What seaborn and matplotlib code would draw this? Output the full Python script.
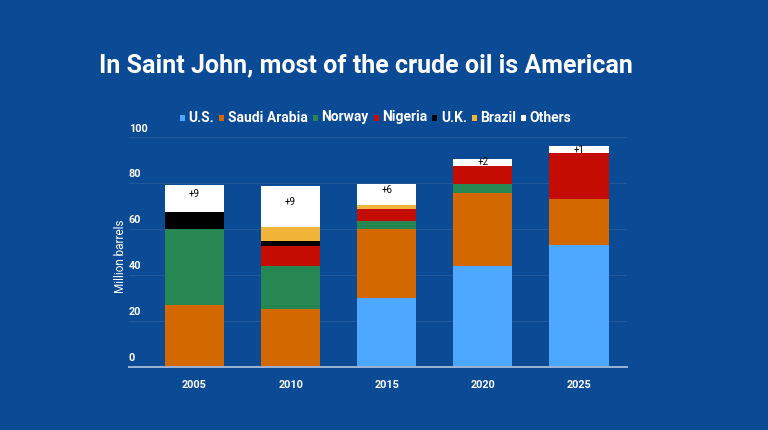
import matplotlib
matplotlib.use("Agg")
import matplotlib.pyplot as plt
from matplotlib.patches import Rectangle
from matplotlib.transforms import blended_transform_factory
import seaborn as sns
import numpy as np
import pandas as pd

years = ["2005", "2010", "2015", "2020", "2025"]
us = [0, 0, 30, 44, 53]
saudi = [27, 25, 30, 31.5, 20]
norway = [33, 19, 3.5, 4, 0]
nigeria = [0, 8.7, 5, 8, 20]
uk = [7.5, 2, 0, 0, 0]
brazil = [0, 6, 2, 0, 0]
others = [11.5, 18, 9, 3, 3]
others_labels = ["+9", "+9", "+6", "+2", "+1"]
series_names = ["U.S.", "Saudi Arabia", "Norway", "Nigeria", "U.K.", "Brazil", "Others"]
yticks = [0, 20, 40, 60, 80, 100]

series_vals = [us, saudi, norway, nigeria, uk, brazil, others]
colors = ["#4fa8ff", "#d46800", "#278753", "#c40c02", "#000000", "#f2b53a", "#ffffff"]
BG = "#0b4a94"
W, H = 768, 430

sns.set_theme(style="white")
plt.rcParams["font.family"] = ["Roboto", "DejaVu Sans"]

fig = plt.figure(figsize=(7.68, 4.30), dpi=100, facecolor=BG)
ax = fig.add_axes([0.1676, 0.1472, 0.8164 - 0.1676, 0.6814 - 0.1472])
ax.set_facecolor(BG)

bottom = np.zeros(len(years))
for name, vals, c in zip(series_names, series_vals, colors):
    vals = np.array(vals, dtype=float)
    df = pd.DataFrame({"year": years, "value": vals})
    sns.barplot(data=df, x="year", y="value", color=c, bottom=bottom,
                width=0.617, saturation=1, linewidth=0, ax=ax, errorbar=None)
    last_bottom = bottom.copy()
    bottom = bottom + vals

# labels for Others segments
oth = np.array(others, dtype=float)
for i, lab in enumerate(others_labels):
    center = last_bottom[i] + oth[i] / 2
    y = center + 2 if oth[i] > 5 else center
    ax.text(i, y, lab, ha="center", va="center", fontsize=7, color="black")

ax.set_xlim(-0.685, 4.50)
ax.set_ylim(0, 100)
ax.set_yticks(yticks)
ax.yaxis.grid(True, color="#245a9c", linewidth=0.6)
ax.set_axisbelow(True)
ax.tick_params(axis="y", left=False, labelleft=False)
ax.tick_params(axis="x", bottom=False, colors="white", labelsize=7.8, pad=3.5)
for lbl in ax.get_xticklabels():
    lbl.set_fontweight("bold")
ax.set_xlabel("")
ax.set_ylabel("")
for s in ["left", "right", "top"]:
    ax.spines[s].set_visible(False)
ax.spines["bottom"].set_color("#9db3d3")
ax.spines["bottom"].set_linewidth(1.4)

trans = blended_transform_factory(ax.transAxes, ax.transData)
for t in yticks:
    ax.text(0.0, t + 1.5, str(t), transform=trans, ha="left", va="bottom",
            fontsize=7.8, fontweight="bold", color="white")

fig.text(120 / W, 1 - 256 / H, "Million barrels", rotation=90, ha="center",
         va="center", fontsize=8.5, color="white")

fig.text(99 / W, 1 - 65 / H, "In Saint John, most of the crude oil is American",
         ha="left", va="center", fontsize=18, fontweight="bold", color="white")

# manual legend (pixel layout)
renderer = fig.canvas.get_renderer()
x = 180.0
for name, c in zip(series_names, colors):
    fig.patches.append(Rectangle((x / W, 1 - 120.5 / H), 5 / W, 5 / H,
                                 transform=fig.transFigure, facecolor=c,
                                 edgecolor="none", figure=fig))
    t = fig.text((x + 8.5) / W, 1 - 121.5 / H, name, ha="left", va="baseline",
                 fontsize=10, fontweight="bold", color="white")
    w = t.get_window_extent(renderer=renderer).width
    x = x + 8.5 + w + 5

fig.savefig("out.png", dpi=100, facecolor=BG)
